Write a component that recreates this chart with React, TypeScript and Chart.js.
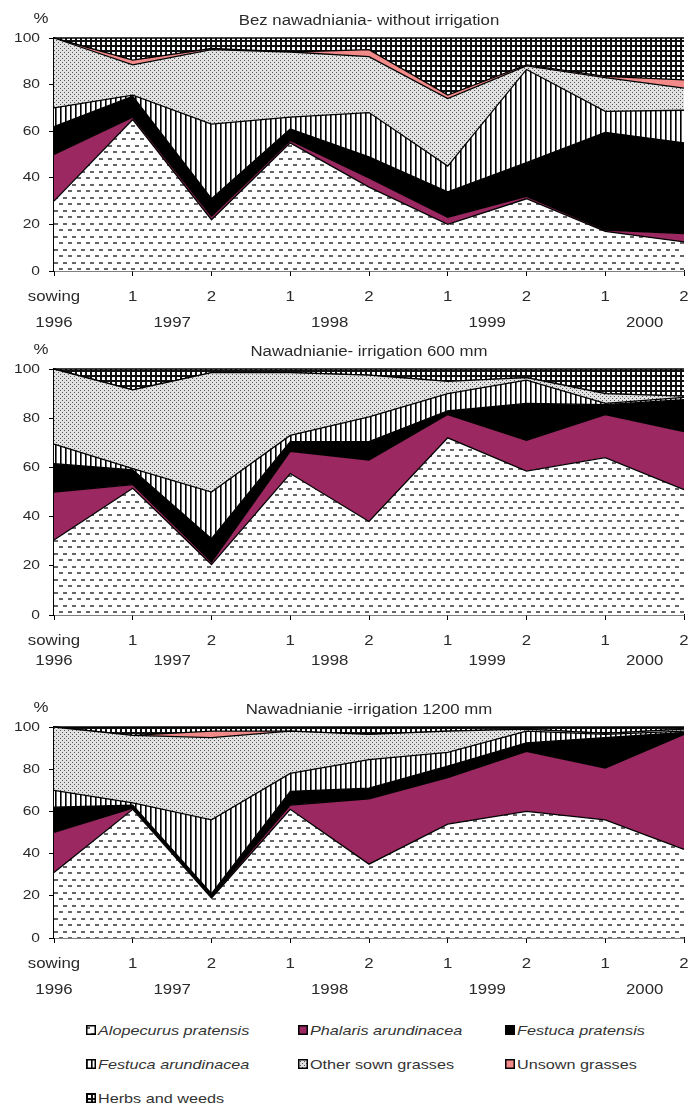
import React, { useEffect, useRef } from 'react';
import { Chart, registerables } from 'chart.js';

Chart.register(...registerables);

// ---------- data ----------
const categories = ['sowing', '1', '2', '1', '2', '1', '2', '1', '2'];
const categoryYears = ['1996', '1997', '1997', '1998', '1998', '1999', '1999', '2000', '2000'];
const yTicks = [0, 20, 40, 60, 80, 100];
const seriesNames = [
  'Alopecurus pratensis',
  'Phalaris arundinacea',
  'Festuca pratensis',
  'Festuca arundinacea',
  'Other sown grasses',
  'Unsown grasses',
  'Herbs and weeds',
];
const italicNames = [true, true, true, true, false, false, false];

const titleDry = 'Bez nawadniania- without irrigation';
const title600 = 'Nawadnianie- irrigation 600 mm';
const title1200 = 'Nawadnianie -irrigation 1200 mm';

// without irrigation
const dryAlopecurus = [30, 65, 22, 55, 36, 20, 31, 17, 12.5];
const dryPhalaris = [20, 1, 1.5, 1, 4, 3, 1, 0.5, 3.5];
const dryFestucaPrat = [12, 9, 7.5, 5, 9, 11, 14.5, 42, 39];
const dryFestucaArund = [8, 0.5, 32, 5, 19, 11, 40, 9, 14];
const dryOtherSown = [30, 13, 32, 28, 24, 29, 1.5, 14.5, 9.5];
const dryUnsown = [0, 2, 0.5, 0, 3, 1.5, 0.5, 0.5, 3.5];
const dryHerbs = [0, 9.5, 4.5, 6, 5, 24.5, 11.5, 16.5, 18];

// irrigation 600 mm
const i600Alopecurus = [30.5, 51.5, 20.5, 57.5, 38, 72, 58.5, 64, 51];
const i600Phalaris = [19.5, 1.5, 1, 9, 25, 9.5, 12.5, 17.5, 23.5];
const i600FestucaPrat = [11.5, 6, 9.5, 4, 7.5, 1.5, 15, 4, 13];
const i600FestucaArund = [8, 0.5, 19, 2.5, 10, 7, 9.5, 0.5, 1];
const i600OtherSown = [30.5, 32, 48.5, 25.5, 17, 5, 1, 4, 0.5];
const i600Unsown = [0, 0, 0, 0, 0, 0, 0, 0, 0];
const i600Herbs = [0, 8.5, 1.5, 1.5, 2.5, 5, 3.5, 10, 11];

// irrigation 1200 mm
const i1200Alopecurus = [31, 61, 19, 61, 35, 54, 60, 56, 42];
const i1200Phalaris = [19, 0.5, 0.5, 2, 31, 22, 28.5, 24.5, 54.5];
const i1200FestucaPrat = [12, 1.5, 1.5, 6.5, 5, 5.5, 4, 14.5, 1];
const i1200FestucaArund = [8, 1, 35, 8.5, 13.5, 6.5, 5.5, 1.5, 0.5];
const i1200OtherSown = [30, 32, 39, 20, 12, 10, 1, 0.5, 1];
const i1200Unsown = [0, 0, 3, 0, 0, 0, 0, 0, 0];
const i1200Herbs = [0, 4, 2, 2, 3.5, 2, 1, 3, 1];

// ---------- styles ----------
const FONT = '"Liberation Sans", Arial, sans-serif';
const TEXT = '#2a2a2a';
const STRETCH = 1.2;

let patternCache: any[] | null = null;
function getFills(): any[] {
  if (patternCache) return patternCache;
  const mk = (w: number, h: number, draw: (g: CanvasRenderingContext2D) => void) => {
    const c = document.createElement('canvas');
    c.width = w;
    c.height = h;
    const g = c.getContext('2d')!;
    draw(g);
    return g.createPattern(c, 'repeat');
  };
  const dashes = mk(9, 13, (g) => {
    g.fillStyle = '#ffffff';
    g.fillRect(0, 0, 9, 13);
    g.fillStyle = '#666666';
    g.fillRect(0, 2, 4, 2);
    g.fillRect(5, 8, 4, 2);
  });
  const vlines = mk(5, 4, (g) => {
    g.fillStyle = '#ffffff';
    g.fillRect(0, 0, 5, 4);
    g.fillStyle = '#000000';
    g.fillRect(0, 0, 1, 4);
    g.fillStyle = '#666666';
    g.fillRect(1, 0, 1, 4);
  });
  const dots = mk(4, 4, (g) => {
    g.fillStyle = '#e2e2e2';
    g.fillRect(0, 0, 4, 4);
    g.fillStyle = '#555555';
    g.fillRect(0, 0, 1, 1);
    g.fillRect(2, 2, 1, 1);
  });
  const grid = mk(5, 5, (g) => {
    g.fillStyle = '#ffffff';
    g.fillRect(0, 0, 5, 5);
    g.fillStyle = '#111111';
    g.fillRect(0, 0, 5, 2);
    g.fillRect(0, 0, 2, 5);
  });
  patternCache = [dashes, '#9b2860', '#000000', vlines, dots, '#f28a8a', grid];
  return patternCache;
}

function stretchedText(ctx: CanvasRenderingContext2D, text: string, x: number, y: number) {
  ctx.save();
  ctx.translate(x, y);
  ctx.scale(STRETCH, 1);
  ctx.fillText(text, 0, 0);
  ctx.restore();
}

function makeTextPlugin(title: string, yearOffset: number) {
  return {
    id: 'customTexts',
    afterDraw(chart: any) {
      const { ctx, chartArea } = chart;
      const x = chart.scales.x;
      const y = chart.scales.y;
      ctx.save();
      ctx.fillStyle = TEXT;
      ctx.textBaseline = 'middle';
      // y tick labels
      ctx.textAlign = 'right';
      ctx.font = `13px ${FONT}`;
      y.ticks.forEach((t: any) => {
        stretchedText(ctx, String(t.value), chartArea.left - 14, y.getPixelForValue(t.value));
      });
      // category labels
      ctx.textAlign = 'center';
      ctx.font = `14px ${FONT}`;
      categories.forEach((c, i) => {
        stretchedText(ctx, c, x.getPixelForValue(i), chartArea.bottom + 26);
      });
      // year labels, centred under the categories of each year
      const years: string[] = [];
      categoryYears.forEach((yy) => {
        if (!years.includes(yy)) years.push(yy);
      });
      years.forEach((yy) => {
        const idx = categoryYears.map((v, i) => (v === yy ? i : -1)).filter((i) => i >= 0);
        const px = idx.reduce((s, i) => s + x.getPixelForValue(i), 0) / idx.length;
        stretchedText(ctx, yy, px, chartArea.bottom + yearOffset);
      });
      // title and unit
      ctx.font = `14px ${FONT}`;
      stretchedText(ctx, title, (chartArea.left + chartArea.right) / 2, chartArea.top - 17);
      stretchedText(ctx, '%', 41, chartArea.top - 19);
      ctx.restore();
    },
  };
}

type AreaProps = {
  top: number;
  height: number;
  padTop: number;
  padBottom: number;
  title: string;
  yearOffset: number;
  series: number[][];
};

function AreaChart({ top, height, padTop, padBottom, title, yearOffset, series }: AreaProps) {
  const ref = useRef<HTMLCanvasElement | null>(null);
  useEffect(() => {
    if (!ref.current) return;
    const fills = getFills();
    const chart = new Chart(ref.current, {
      type: 'line',
      data: {
        labels: categories,
        datasets: series.map((d, i) => ({
          label: seriesNames[i],
          data: d,
          backgroundColor: fills[i],
          borderColor: '#000000',
          borderWidth: 1.3,
          pointRadius: 0,
          pointHoverRadius: 0,
          tension: 0,
          fill: i === 0 ? 'origin' : '-1',
          clip: false,
        })),
      },
      options: {
        responsive: false,
        animation: false,
        events: [],
        layout: { padding: { top: padTop, bottom: padBottom, left: 0, right: 6 } },
        plugins: {
          legend: { display: false },
          tooltip: { enabled: false },
          title: { display: false },
        },
        scales: {
          x: {
            type: 'category',
            offset: false,
            grid: { display: true, drawOnChartArea: false, tickLength: 5, color: '#000', lineWidth: 1 },
            border: { display: true, color: '#000', width: 1.5 },
            ticks: { display: false },
          },
          y: {
            stacked: true,
            min: 0,
            max: 100,
            afterBuildTicks: (s: any) => {
              s.ticks = yTicks.map((v) => ({ value: v }));
            },
            afterFit: (s: any) => {
              s.width = 54;
            },
            grid: { display: true, drawOnChartArea: false, tickLength: 5, color: '#000', lineWidth: 1 },
            border: { display: true, color: '#000', width: 1.5 },
            ticks: { display: false },
          },
        },
      } as any,
      plugins: [makeTextPlugin(title, yearOffset)],
    });
    return () => chart.destroy();
  }, []);
  return (
    <canvas
      ref={ref}
      width={690}
      height={height}
      style={{ position: 'absolute', left: 0, top, width: 690, height }}
    />
  );
}

function Swatch({ index }: { index: number }) {
  const ref = useRef<HTMLCanvasElement | null>(null);
  useEffect(() => {
    const c = ref.current;
    if (!c) return;
    const g = c.getContext('2d')!;
    g.clearRect(0, 0, 10, 10);
    g.fillStyle = getFills()[index];
    g.fillRect(0, 0, 10, 10);
    g.strokeStyle = '#000';
    g.lineWidth = 1.5;
    g.strokeRect(0.75, 0.75, 8.5, 8.5);
  }, []);
  return <canvas ref={ref} width={10} height={10} style={{ display: 'block', width: 10, height: 10 }} />;
}

const legendBoxCols = [86, 298, 505];
const legendRows = [1030, 1064, 1098];

export default function App() {
  return (
    <div style={{ position: 'absolute', left: 0, top: 0, width: 690, height: 1118, background: '#fff', overflow: 'hidden' }}>
      <AreaChart
        top={0}
        height={335}
        padTop={38}
        padBottom={59}
        title={titleDry}
        yearOffset={52}
        series={[dryAlopecurus, dryPhalaris, dryFestucaPrat, dryFestucaArund, dryOtherSown, dryUnsown, dryHerbs]}
      />
      <AreaChart
        top={330}
        height={350}
        padTop={39}
        padBottom={60}
        title={title600}
        yearOffset={46}
        series={[i600Alopecurus, i600Phalaris, i600FestucaPrat, i600FestucaArund, i600OtherSown, i600Unsown, i600Herbs]}
      />
      <AreaChart
        top={682}
        height={330}
        padTop={45}
        padBottom={69}
        title={title1200}
        yearOffset={52}
        series={[i1200Alopecurus, i1200Phalaris, i1200FestucaPrat, i1200FestucaArund, i1200OtherSown, i1200Unsown, i1200Herbs]}
      />
      {seriesNames.map((name, i) => (
        <div
          key={name}
          style={{
            position: 'absolute',
            left: legendBoxCols[i % 3],
            top: legendRows[Math.floor(i / 3)] - 9,
            height: 18,
            display: 'flex',
            alignItems: 'center',
            fontFamily: FONT,
            fontSize: 13.5,
            color: '#333',
            fontStyle: italicNames[i] ? 'italic' : 'normal',
            whiteSpace: 'nowrap',
          }}
        >
          <Swatch index={i} />
          <span style={{ display: 'inline-block', marginLeft: 2, transform: `scaleX(${STRETCH})`, transformOrigin: 'left center' }}>
            {name}
          </span>
        </div>
      ))}
    </div>
  );
}
